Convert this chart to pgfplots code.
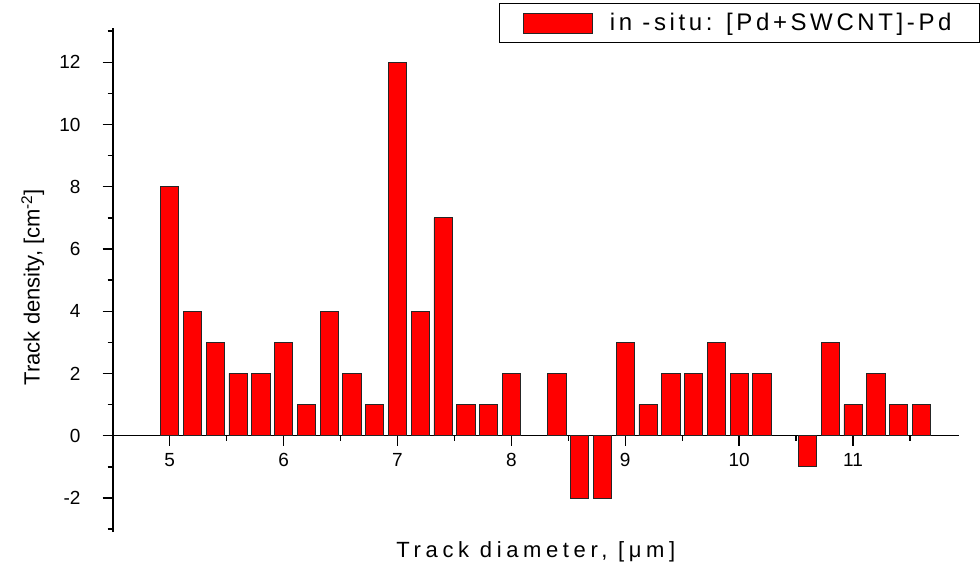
\documentclass[border=0pt]{standalone}
\usepackage{pgfplots}
\pgfplotsset{compat=1.18}
\usepackage{fontspec}
\setmainfont{Liberation Sans}
\pgfplotstableread{
x y
5.0 8
5.2 4
5.4 3
5.6 2
5.8 2
6.0 3
6.2 1
6.4 4
6.6 2
6.8 1
7.0 12
7.2 4
7.4 7
7.6 1
7.8 1
8.0 2
8.4 2
8.6 -2
8.8 -2
9.0 3
9.2 1
9.4 2
9.6 2
9.8 3
10.0 2
10.2 2
10.6 -1
10.8 3
11.0 1
11.2 2
11.4 1
11.6 1
}\datatable
\begin{document}
\begin{tikzpicture}
\begin{axis}[
  scale only axis, width=846pt, height=504pt,
  xmin=4.5, xmax=11.93, ymin=-3.1, ymax=13.1,
  axis x line=middle, axis y line=left,
  axis line style={line width=1.6pt, -},
  xtick={5,...,11}, minor xtick={5.5,6.5,...,11.5},
  ytick={-2,0,...,12}, minor ytick={-3,-1,...,13},
  yticklabels={-2,0,2,4,6,8,10,12},
  tick align=outside,
  major tick length=10pt, minor tick length=5pt,
  every tick/.style={line width=1.4pt, black},
  /pgf/number format/assume math mode=true,
  tick label style={font=\fontsize{19}{21}\selectfont},
  xticklabel shift=4pt,
  yticklabel style={anchor=east, inner sep=0pt, xshift=-22pt},
  xlabel={Track diameter, [μm]},
  ylabel={Track density, [cm\textsuperscript{-2}]},
  xlabel style={at={([yshift=-20pt]rel axis cs:0.5,0)}, anchor=center, font=\fontsize{22}{24}\selectfont\addfontfeatures{LetterSpace=21}},
  ylabel style={at={([xshift=-80pt,yshift=-7pt]rel axis cs:0,0.5)}, anchor=center, font=\fontsize{22}{24}\selectfont},
  legend style={at={([xshift=21pt,yshift=25pt]rel axis cs:1,1)}, anchor=north east,
    draw=black, line width=1pt, inner xsep=24pt, inner ysep=6pt,
    font=\fontsize{24}{26}\selectfont\addfontfeatures{LetterSpace=15},
    nodes={inner sep=4pt}},
  legend image code/.code={\draw[#1, line width=0.8pt] (0pt,-10pt) rectangle (69pt,10pt); \path (82pt,0pt);},
  clip=false,
]
\addplot[ybar, bar width=0.16, fill=red, draw=black!85, line width=0.8pt] table[x=x,y=y]{\datatable};
\addlegendentry{in -situ: [Pd+SWCNT]-Pd}
\coordinate (bl) at (rel axis cs:0,0);
\coordinate (tr) at (rel axis cs:1,1);
\end{axis}
\pgfresetboundingbox
\path ([xshift=-112.7pt,yshift=-36pt]bl) rectangle ([xshift=21pt,yshift=28pt]tr);
\end{tikzpicture}
\end{document}
